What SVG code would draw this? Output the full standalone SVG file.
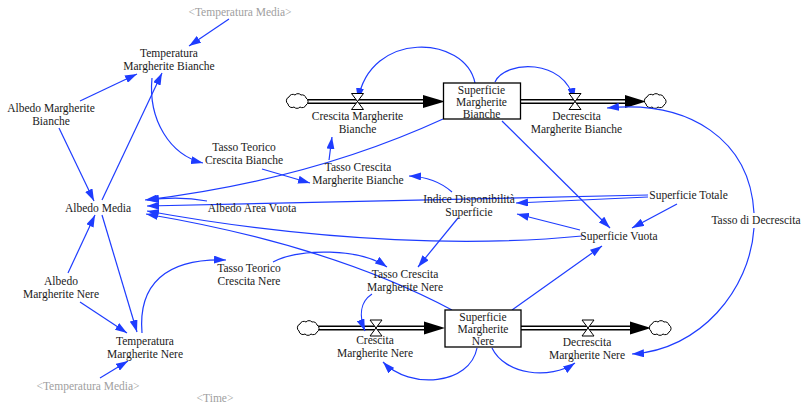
<svg xmlns="http://www.w3.org/2000/svg" width="803" height="404" viewBox="0 0 803 404">
<style>
.t{font-family:"Liberation Serif","Times New Roman",serif;font-size:11.5px;text-anchor:middle;fill:#1a1a1a}
.g{font-family:"Liberation Serif","Times New Roman",serif;font-size:11.5px;text-anchor:middle;fill:#a0a0a0}
.c{fill:none;stroke:#1e3cff;stroke-width:1.2;marker-end:url(#arr)}
.pipeo{fill:none;stroke:#000;stroke-width:5}
.pipei{fill:none;stroke:#fff;stroke-width:2}
.valve{fill:#fff;stroke:#000;stroke-width:1}
.cloud{fill:#fff;stroke:#000;stroke-width:1}
.stock{fill:#fff;stroke:#000;stroke-width:1.3}
</style>
<defs>
<marker id="arr" viewBox="0 0 12 8" refX="12" refY="4" markerWidth="12" markerHeight="8" markerUnits="userSpaceOnUse" orient="auto">
<path d="M0,0 L12,4 L0,8 Z" fill="#1e3cff"/>
</marker>
<path id="cl" d="M-9,3 A4,4 0 0 1 -8,-4 A4,4 0 0 1 -2,-6 A4,4 0 0 1 4,-6 A4,4 0 0 1 9,-3 A4,4 0 0 1 9,4 A4,4 0 0 1 3,6 A4,4 0 0 1 -3,6 A4,4 0 0 1 -9,3 Z"/>
</defs>
<rect width="803" height="404" fill="#fff"/>

<g id="flows">
<path class="pipeo" d="M306,101.5 H426"/><path class="pipei" d="M306,101.5 H426"/>
<polygon points="423,95 445,101.5 423,108" fill="#000"/>
<path class="pipeo" d="M520,101.5 H628"/><path class="pipei" d="M520,101.5 H628"/>
<polygon points="625,95 646,101.5 625,108" fill="#000"/>
<path class="pipeo" d="M317,328 H427"/><path class="pipei" d="M317,328 H427"/>
<polygon points="424,321.5 445,328 424,334.5" fill="#000"/>
<path class="pipeo" d="M521,328 H633"/><path class="pipei" d="M521,328 H633"/>
<polygon points="630,321.5 651,328 630,334.5" fill="#000"/>
<use href="#cl" class="cloud" x="297" y="101"/>
<use href="#cl" class="cloud" x="655" y="101"/>
<use href="#cl" class="cloud" x="308" y="328"/>
<use href="#cl" class="cloud" x="660" y="328"/>
</g>

<g id="connectors">
<path class="c" d="M229,19 L189,46"/>
<path class="c" d="M80,101 L137,74"/>
<path class="c" d="M59,128 L94,201"/>
<path class="c" d="M102,200 L162,73"/>
<path class="c" d="M152,78 C148,120 170,155 203,163"/>
<path class="c" d="M262,169 L310,183"/>
<path class="c" d="M329,160 L332,137"/>
<path class="c" d="M443,119 Q310,180 145,200"/>
<path class="c" d="M475,83 C465,35 370,30 358,100"/>
<path class="c" d="M495,82 C505,60 565,58 574,100"/>
<path class="c" d="M754,213 C750,140 690,100 607,108"/>
<path class="c" d="M754,228 C750,290 700,350 632,354"/>
<path class="c" d="M502,121 L610,228"/>
<path class="c" d="M677,204 L632,228"/>
<path class="c" d="M648,197 L516,203"/>
<path class="c" d="M648,195 L147,206"/>
<path class="c" d="M207,201 Q180,196 147,200"/>
<path class="c" d="M582,236 C480,246 330,244 147,211"/>
<path class="c" d="M452,310 Q330,245 146,214"/>
<path class="c" d="M580,230 L517,214"/>
<path class="c" d="M452,192 Q435,177 409,176"/>
<path class="c" d="M458,218 L418,267"/>
<path class="c" d="M273,262 C300,248 360,248 387,267"/>
<path class="c" d="M142,333 C138,285 165,258 226,260"/>
<path class="c" d="M102,215 L137,332"/>
<path class="c" d="M68,273 L95,215"/>
<path class="c" d="M80,302 L127,333"/>
<path class="c" d="M100,378 L128,361"/>
<path class="c" d="M372,294 C360,302 359,316 365,331"/>
<path class="c" d="M477,348 C470,385 410,390 383,362"/>
<path class="c" d="M492,348 C505,375 550,380 575,363"/>
<path class="c" d="M512,310 L602,246"/>
</g>

<g id="stock-bianche"><rect class="stock" x="443.5" y="83" width="77" height="36"/>
<text class="t" x="481.5" y="94">Superficie</text><text class="t" x="481.5" y="106">Margherite</text><text class="t" x="481.5" y="118">Bianche</text></g>
<g id="stock-nere"><rect class="stock" x="445" y="310" width="76" height="37"/>
<text class="t" x="483" y="321">Superficie</text><text class="t" x="483" y="333">Margherite</text><text class="t" x="483" y="345">Nere</text></g>

<g id="valve-cmb"><path class="valve" d="M351.5,93.5 H363.5 L351.5,109.5 H363.5 Z"/>
<text class="t" x="357.5" y="120">Crescita Margherite</text><text class="t" x="357.5" y="133">Bianche</text></g>
<g id="valve-dmb"><path class="valve" d="M569,93.5 H581 L569,109.5 H581 Z"/>
<text class="t" x="576.5" y="120">Decrescita</text><text class="t" x="576.5" y="133">Margherite Bianche</text></g>
<g id="valve-cmn"><path class="valve" d="M370,320 H382 L370,336 H382 Z"/>
<text class="t" x="375" y="344">Crescita</text><text class="t" x="375" y="357">Margherite Nere</text></g>
<g id="valve-dmn"><path class="valve" d="M582,320 H594 L582,336 H594 Z"/>
<text class="t" x="587" y="346">Decrescita</text><text class="t" x="587" y="359">Margherite Nere</text></g>

<g id="temp-media-1"><text class="g" x="240" y="16">&lt;Temperatura Media&gt;</text></g>
<g id="temp-mb"><text class="t" x="169" y="57">Temperatura</text><text class="t" x="169" y="70">Margherite Bianche</text></g>
<g id="albedo-mb"><text class="t" x="51" y="112">Albedo Margherite</text><text class="t" x="51" y="125">Bianche</text></g>
<g id="tasso-teorico-cb"><text class="t" x="244" y="151">Tasso Teorico</text><text class="t" x="244" y="164">Crescita Bianche</text></g>
<g id="tasso-cmb"><text class="t" x="358" y="171">Tasso Crescita</text><text class="t" x="358" y="184">Margherite Bianche</text></g>
<g id="albedo-media"><text class="t" x="98" y="212">Albedo Media</text></g>
<g id="albedo-area-vuota"><text class="t" x="252" y="212">Albedo Area Vuota</text></g>
<g id="indice"><text class="t" x="469" y="203">Indice Disponibilità</text><text class="t" x="469" y="216">Superficie</text></g>
<g id="sup-totale"><text class="t" x="688.5" y="199">Superficie Totale</text></g>
<g id="sup-vuota"><text class="t" x="619" y="240">Superficie Vuota</text></g>
<g id="tasso-decrescita"><text class="t" x="756" y="224">Tasso di Decrescita</text></g>
<g id="albedo-mn"><text class="t" x="61" y="285">Albedo</text><text class="t" x="61" y="298">Margherite Nere</text></g>
<g id="tasso-teorico-cn"><text class="t" x="249" y="272">Tasso Teorico</text><text class="t" x="249" y="285">Crescita Nere</text></g>
<g id="tasso-cmn"><text class="t" x="405" y="278">Tasso Crescita</text><text class="t" x="405" y="291">Margherite Nere</text></g>
<g id="temp-mn"><text class="t" x="145" y="345">Temperatura</text><text class="t" x="145" y="358">Margherite Nere</text></g>
<g id="temp-media-2"><text class="g" x="88" y="390">&lt;Temperatura Media&gt;</text></g>
<g id="time"><text class="g" x="215" y="402">&lt;Time&gt;</text></g>
</svg>
